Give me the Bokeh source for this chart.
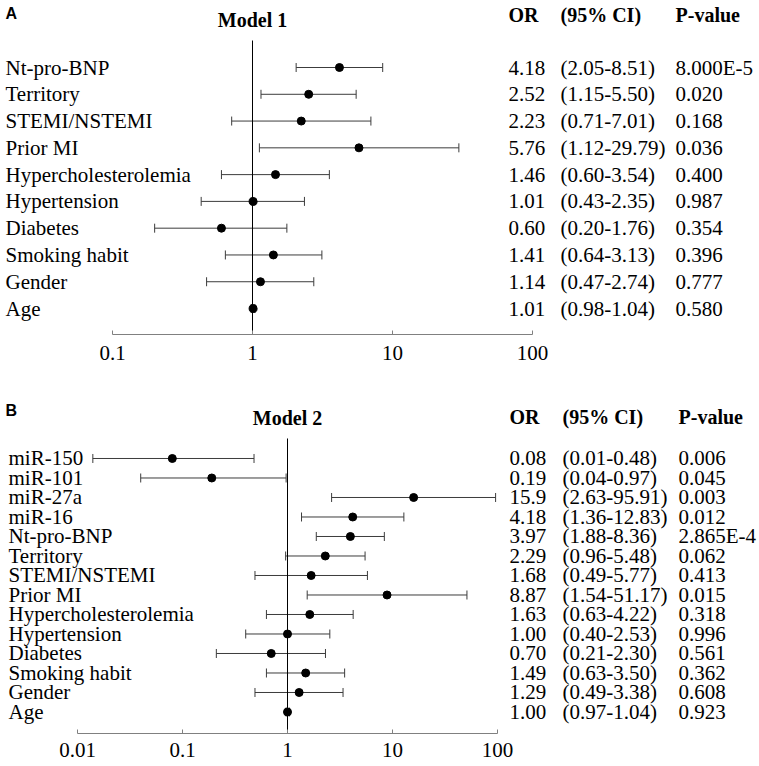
import math
from bokeh.plotting import figure
from bokeh.layouts import column
from bokeh.models import (ColumnDataSource, Whisker, TeeHead, LabelSet, Label,
                          Range1d, FixedTicker, NumeralTickFormatter)
from bokeh.embed import file_html
from bokeh.resources import INLINE

# ---------------- data: Model 1 ----------------
m1_vars = ["Nt-pro-BNP", "Territory", "STEMI/NSTEMI", "Prior MI", "Hypercholesterolemia",
           "Hypertension", "Diabetes", "Smoking habit", "Gender", "Age"]
m1_or = [4.18, 2.52, 2.23, 5.76, 1.46, 1.01, 0.60, 1.41, 1.14, 1.01]
m1_lo = [2.05, 1.15, 0.71, 1.12, 0.60, 0.43, 0.20, 0.64, 0.47, 0.98]
m1_hi = [8.51, 5.50, 7.01, 29.79, 3.54, 2.35, 1.76, 3.13, 2.74, 1.04]
m1_or_txt = ["4.18", "2.52", "2.23", "5.76", "1.46", "1.01", "0.60", "1.41", "1.14", "1.01"]
m1_ci_txt = ["(2.05-8.51)", "(1.15-5.50)", "(0.71-7.01)", "(1.12-29.79)", "(0.60-3.54)",
             "(0.43-2.35)", "(0.20-1.76)", "(0.64-3.13)", "(0.47-2.74)", "(0.98-1.04)"]
m1_p_txt = ["8.000E-5", "0.020", "0.168", "0.036", "0.400", "0.987", "0.354", "0.396", "0.777", "0.580"]
m1_ticks = [0.1, 1, 10, 100]

# ---------------- data: Model 2 ----------------
m2_vars = ["miR-150", "miR-101", "miR-27a", "miR-16", "Nt-pro-BNP", "Territory", "STEMI/NSTEMI",
           "Prior MI", "Hypercholesterolemia", "Hypertension", "Diabetes", "Smoking habit", "Gender", "Age"]
m2_or = [0.08, 0.19, 15.9, 4.18, 3.97, 2.29, 1.68, 8.87, 1.63, 1.00, 0.70, 1.49, 1.29, 1.00]
m2_lo = [0.014, 0.04, 2.63, 1.36, 1.88, 0.96, 0.49, 1.54, 0.63, 0.40, 0.21, 0.63, 0.49, 0.97]
m2_hi = [0.48, 0.97, 95.91, 12.83, 8.36, 5.48, 5.77, 51.17, 4.22, 2.53, 2.30, 3.50, 3.38, 1.04]
m2_or_txt = ["0.08", "0.19", "15.9", "4.18", "3.97", "2.29", "1.68", "8.87", "1.63", "1.00",
             "0.70", "1.49", "1.29", "1.00"]
m2_ci_txt = ["(0.01-0.48)", "(0.04-0.97)", "(2.63-95.91)", "(1.36-12.83)", "(1.88-8.36)",
             "(0.96-5.48)", "(0.49-5.77)", "(1.54-51.17)", "(0.63-4.22)", "(0.40-2.53)",
             "(0.21-2.30)", "(0.63-3.50)", "(0.49-3.38)", "(0.97-1.04)"]
m2_p_txt = ["0.006", "0.045", "0.003", "0.012", "2.865E-4", "0.062", "0.413", "0.015", "0.318",
            "0.996", "0.561", "0.362", "0.608", "0.923"]
m2_ticks = [0.01, 0.1, 1, 10, 100]

SERIF = "Liberation Serif"
SANS = "Liberation Sans"
FS = "21px"
FS_BOLD = "20px"
LINE = "#3c3c3c"
AXIS = "#808080"
W = 759


def panel(vars_, ors, los, his, or_txt, ci_txt, p_txt, ticks, letter, title,
          height, ax_left_px, px_per_dec, yr, y_line_top, y_axis, y_title, y_head, y_letter,
          cols, x_letter, standoff):
    rows = list(range(len(vars_)))
    # log x-range chosen so that the first tick sits at ax_left_px and each decade spans px_per_dec
    e0 = math.log10(ticks[0])
    x_start = 10 ** (e0 - ax_left_px / px_per_dec)
    x_end = 10 ** (e0 + (W - ax_left_px) / px_per_dec)
    p = figure(width=W, height=height, x_axis_type="log",
               x_range=Range1d(x_start, x_end), y_range=Range1d(*yr),
               output_backend="svg", toolbar_location=None, y_axis_location=None,
               min_border_left=0, min_border_right=0, min_border_top=0, min_border_bottom=0,
               outline_line_color=None, background_fill_color="white", border_fill_color="white")
    p.xgrid.visible = False
    p.ygrid.visible = False

    ax = p.xaxis[0]
    ax.fixed_location = y_axis
    ax.bounds = (ticks[0], ticks[-1])
    ax.ticker = FixedTicker(ticks=ticks, minor_ticks=[])
    ax.formatter = NumeralTickFormatter(format="0.[00]")
    ax.axis_line_color = AXIS
    ax.major_tick_line_color = AXIS
    ax.major_tick_in = 4
    ax.major_tick_out = 0
    ax.minor_tick_in = 0
    ax.minor_tick_out = 0
    ax.major_label_text_font = SERIF
    ax.major_label_text_font_size = FS
    ax.major_label_text_color = "black"
    ax.major_label_standoff = standoff

    # reference line at OR = 1
    p.segment(x0=[1], x1=[1], y0=[y_line_top], y1=[y_axis], line_color="black", line_width=1)

    src = ColumnDataSource(dict(y=rows, orv=ors, lo=los, hi=his, name=vars_,
                                ortxt=or_txt, ci=ci_txt, pv=p_txt))
    p.add_layout(Whisker(source=src, base="y", lower="lo", upper="hi", dimension="width",
                         line_color=LINE, line_width=1,
                         lower_head=TeeHead(size=9, line_color=LINE, line_width=1),
                         upper_head=TeeHead(size=9, line_color=LINE, line_width=1)))
    p.scatter(x="orv", y="y", source=src, size=8, color="black")

    x_name, x_or, x_ci, x_p = cols
    common = dict(source=src, y="y", x_units="screen", text_font=SERIF, text_font_size=FS,
                  text_baseline="middle", text_color="black", text_align="left")
    p.add_layout(LabelSet(x=x_name, text="name", **common))
    p.add_layout(LabelSet(x=x_or, text="ortxt", **common))
    p.add_layout(LabelSet(x=x_ci, text="ci", **common))
    p.add_layout(LabelSet(x=x_p, text="pv", **common))

    head = dict(y=y_head, x_units="screen", text_font=SERIF, text_font_size=FS_BOLD,
                text_font_style="bold", text_baseline="middle", text_color="black")
    p.add_layout(Label(x=x_or, text="OR", **head))
    p.add_layout(Label(x=x_ci, text="(95% CI)", **head))
    p.add_layout(Label(x=x_p, text="P-value", **head))

    p.add_layout(Label(x=1, y=y_title, text=title, text_font=SERIF, text_font_size=FS_BOLD,
                       text_font_style="bold", text_align="center", text_baseline="middle",
                       text_color="black"))
    p.add_layout(Label(x=x_letter, y=y_letter, x_units="screen", text=letter, text_font=SANS,
                       text_font_size="16px", text_font_style="bold", text_baseline="middle",
                       text_color="black"))
    return p


# panel A: rows start at 67 px, 26.78 px apart; axis at 334 px
pA = panel(m1_vars, m1_or, m1_lo, m1_hi, m1_or_txt, m1_ci_txt, m1_p_txt, m1_ticks, "A", "Model 1",
           height=386, ax_left_px=112, px_per_dec=140, yr=(11.912, -2.502),
           y_line_top=-1.008, y_axis=9.970,
           y_title=-1.774, y_head=-1.979, y_letter=-2.016,
           cols=(5, 508, 560, 675), x_letter=5, standoff=12)

# panel B: rows start at 72 px (458 on page), 19.5 px apart; axis at 347 px (733 on page)
pB = panel(m2_vars, m2_or, m2_lo, m2_hi, m2_or_txt, m2_ci_txt, m2_p_txt, m2_ticks, "B", "Model 2",
           height=380, ax_left_px=77, px_per_dec=105, yr=(15.795, -3.692),
           y_line_top=-1.026, y_axis=14.103,
           y_title=-2.051, y_head=-2.103, y_letter=-2.462,
           cols=(8, 509, 562, 678), x_letter=5, standoff=9)

layout = column(pA, pB)
open("out.html", "w").write(file_html(layout, INLINE))
